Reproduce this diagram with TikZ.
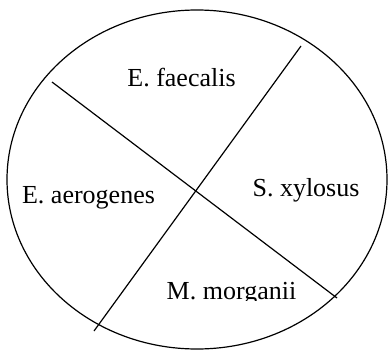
\documentclass[tikz,border=0pt]{standalone}
\usepackage{fontspec}
\setmainfont{Liberation Serif}
\usetikzlibrary{positioning}
\tikzset{
  dish/.style={draw, line width=1.2pt},
  cutline/.style={draw, line width=1.2pt},
  strain/.style={anchor=base, inner sep=0pt, font=\fontsize{26}{30}\selectfont},
}

\begin{document}
\begin{tikzpicture}[x=1pt, y=-1pt]
  \useasboundingbox (0,0) rectangle (390,350);

  % Dish outline
  \draw[dish] (197,179.5) ellipse [x radius=190, y radius=169.5];

  % Dividing lines
  \coordinate (a1) at (52,82);
  \coordinate (a2) at (337,298);
  \coordinate (b1) at (301,46);
  \coordinate (b2) at (94,331);
  \draw[cutline] (a1) -- (a2);
  \draw[cutline] (b1) -- (b2);

  % Strain labels
  \node[strain] (fae) at (181.5,87) {E. faecalis};
  \node[strain] (aer) at (88.5,203) {E. aerogenes};
  \node[strain] (xyl) at (306,196) {S. xylosus};
  \begin{scope}
    \clip (0,0) rectangle (390,300.5);
    \node[strain] (mor) at (231.5,299) {M. morganii};
  \end{scope}
\end{tikzpicture}
\end{document}
